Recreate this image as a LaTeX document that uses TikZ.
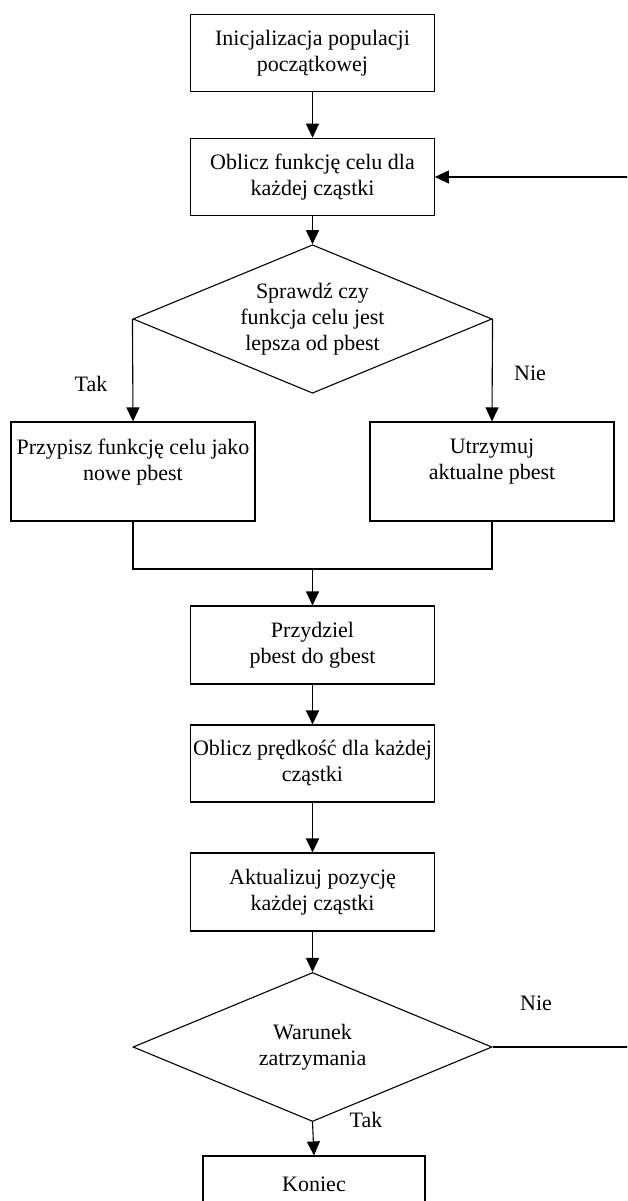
\documentclass[tikz,border=0pt]{standalone}
\usepackage{fontspec}
\setmainfont{Liberation Serif}
\usetikzlibrary{shapes.geometric,arrows.meta}
\begin{document}
\begin{tikzpicture}[x=1pt,y=-1pt,
  every node/.style={font=\fontsize{22}{26}\selectfont},
  stepbox/.style={draw,rectangle,line width=1.1pt,minimum width=243.6pt,inner sep=2pt,align=center},
  decision/.style={draw,diamond,line width=1.1pt,minimum width=359pt,minimum height=148.5pt,aspect=2.42,inner sep=0pt,align=center},
  lbl/.style={inner sep=0pt},
  conn/.style={line width=1.1pt},
  arr/.style={conn,-{Triangle[length=14pt,width=13pt]}}]
\useasboundingbox (0,0) rectangle (627,1201);
\clip (0,0) rectangle (627,1201);

\node[stepbox,minimum height=77pt] (b1) at (312.5,53.2) {Inicjalizacja populacji\\początkowej};
\node[stepbox,minimum height=77.4pt] (b2) at (312.5,177) {Oblicz funkcję celu dla\\każdej cząstki};
\node[decision] (d1) at (312.5,319) {Sprawdź czy\\funkcja celu jest\\lepsza od pbest};
\node[stepbox,minimum width=244pt,minimum height=99pt,text depth=24pt] (b3) at (133,471.5) {Przypisz funkcję celu jako\\nowe pbest};
\node[stepbox,minimum width=244pt,minimum height=99pt,text depth=24pt] (b4) at (492,471.5) {Utrzymuj\\aktualne pbest};
\node[stepbox,minimum height=78pt] (b5) at (312.5,645) {Przydziel\\pbest do gbest};
\node[stepbox,minimum height=77pt] (b6) at (312.5,763.5) {Oblicz prędkość dla każdej\\cząstki};
\node[stepbox,minimum height=78pt] (b7) at (312.5,892) {Aktualizuj pozycję\\każdej cząstki};
\node[decision,minimum height=149pt] (d2) at (312.5,1047) {Warunek\\zatrzymania};
\node[stepbox,minimum width=222pt,minimum height=56pt] (b8) at (314,1184) {Koniec};

\coordinate (m) at (312.5,569);
\coordinate (fb) at (632,1047);

\draw[arr] (b1) -- (b2);
\draw[arr] (b2) -- (d1);
\draw[arr] (d1.west) -- (b3.north);
\draw[arr] (d1.east) -- (b4.north);
\draw[conn] (b3.south) |- (m) -| (b4.south);
\draw[arr] (m) -- (b5.north);
\draw[arr] (b5) -- (b6);
\draw[arr] (b6) -- (b7);
\draw[arr] (b7) -- (d2);
\draw[arr] (d2.south) -- (b8.north);
\draw[arr] (d2.east) -- (fb) |- (b2.east);

\node[lbl] (t1) at (91,384) {Tak};
\node[lbl] (n1) at (530,373) {Nie};
\node[lbl] (n2) at (536,1003) {Nie};
\node[lbl] (t2) at (366,1120) {Tak};
\end{tikzpicture}
\end{document}
